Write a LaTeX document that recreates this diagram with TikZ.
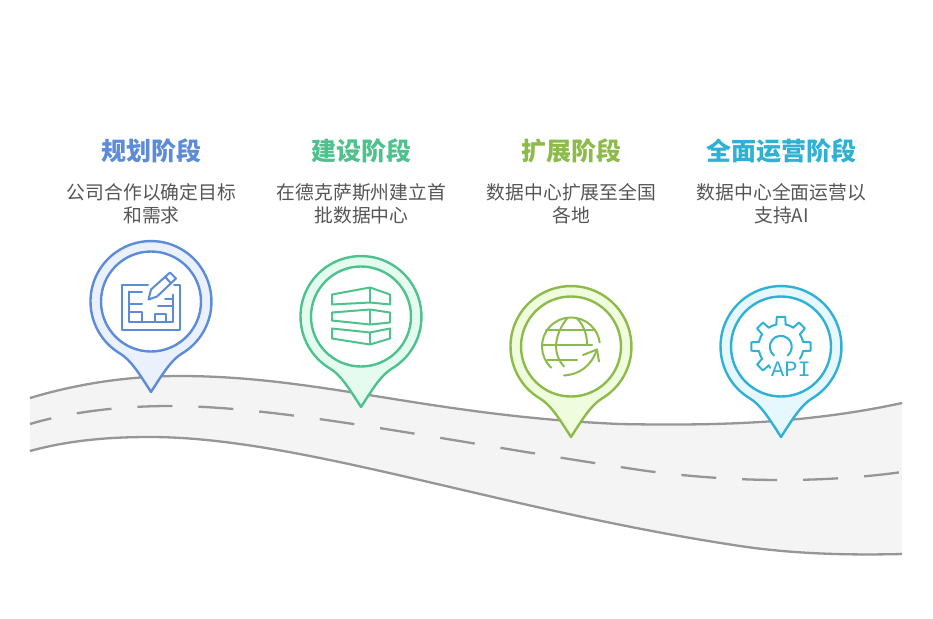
\documentclass[tikz,border=0pt]{standalone}
\usepackage{fontspec}
\setmainfont{Noto Sans CJK SC}
\newfontfamily\apifont{Liberation Mono}
\usepackage{tikz}
\definecolor{planblue}{HTML}{5B8BD9}
\definecolor{planfill}{HTML}{EAF1FC}
\definecolor{buildgreen}{HTML}{4DC28D}
\definecolor{buildfill}{HTML}{E6FBF0}
\definecolor{growlime}{HTML}{8DBB4A}
\definecolor{growfill}{HTML}{F0FCDE}
\definecolor{runcyan}{HTML}{2FB0D5}
\definecolor{runfill}{HTML}{E6F7FD}
\definecolor{roadfill}{HTML}{F4F4F4}
\definecolor{roadline}{HTML}{969696}
\definecolor{bodytext}{HTML}{555555}
\tikzset{
  phasetitle/.style = {font = \fontsize{25}{25}\selectfont\bfseries, anchor = center},
  phasetext/.style = {font = \fontsize{18.8}{23}\selectfont, text = bodytext, align = center, anchor = north},
  roadedge/.style = {draw = roadline, line width = 2.3pt},
  icon/.style = {line width = 2pt, line join = round, line cap = round}
}
\begin{document}
\begin{tikzpicture}[x = 1pt, y = -1pt]
\useasboundingbox (0,0) rectangle (933,618);

\fill[roadfill] (30,398) .. controls (80,383) and (130,376) .. (180,376)
      .. controls (320,376) and (430,416) .. (620,424)
      .. controls (720,426) and (810,423) .. (902,403)
      -- (902,554) .. controls (860,555) and (800,555) .. (740,546)
      .. controls (500,510) and (300,437) .. (150,437)
      .. controls (110,437) and (70,440) .. (30,451) -- cycle;
\draw[roadedge] (30,398) .. controls (80,383) and (130,376) .. (180,376)
      .. controls (320,376) and (430,416) .. (620,424)
      .. controls (720,426) and (810,423) .. (902,403);
\draw[roadedge] (30,451) .. controls (70,440) and (110,437) .. (150,437)
      .. controls (300,437) and (500,510) .. (740,546)
      .. controls (800,555) and (860,555) .. (902,554);
\draw[roadedge, dash pattern = on 35pt off 26pt, dash phase = 13pt] (30,424) .. controls (70,412) and (120,406) .. (170,406)
      .. controls (280,406) and (440,440) .. (640,470)
      .. controls (740,484) and (830,482) .. (902,472);

\foreach \px/\py/\pcol/\pfill in {151/301.5/planblue/planfill,
                                  361/316.5/buildgreen/buildfill,
                                  571/346.5/growlime/growfill,
                                  781/346.5/runcyan/runfill} {
  \begin{scope}[shift = {(\px,\py)}]
    \draw[draw = \pcol, fill = \pfill, line width = 2.4pt, line join = round]
      (0,90.5) .. controls (-13,70) and (-21,58) .. (-31,52)
      arc[start angle = 120.8, end angle = 419.2, radius = 60.5]
      .. controls (21,58) and (13,70) .. cycle;
    \draw[draw = \pcol, fill = white, line width = 2.4pt] (0,0) circle (50);
  \end{scope}
}

\node[phasetitle, text = planblue] (title1) at (151,151) {规划阶段};
\node[phasetitle, text = buildgreen] (title2) at (361,151) {建设阶段};
\node[phasetitle, text = growlime] (title3) at (571,151) {扩展阶段};
\node[phasetitle, text = runcyan] (title4) at (781,151) {全面运营阶段};
\node[phasetext] (text1) at (151.5,180) {公司合作以确定目标\\和需求};
\node[phasetext] (text2) at (361.5,180) {在德克萨斯州建立首\\批数据中心};
\node[phasetext] (text3) at (571.5,180) {数据中心扩展至全国\\各地};
\node[phasetext] (text4) at (781.5,180) {数据中心全面运营以\\支持AI};

% plan
\begin{scope}[shift = {(151,301.5)}, icon, draw = planblue]
  \draw (-3,-17) -- (-29,-17) -- (-29,28) -- (29,28) -- (29,-17) -- (23,-17);
  \draw (-22,-10) -- (-9,-10);
  \draw (-22,-10) -- (-22,20) -- (22,20) -- (22,-7);
  \draw (-22,2) -- (-9,2);
  \draw (-22,10) -- (-9,10) -- (-9,20);
  \draw (14,-3) -- (22,-3);
  \draw (7,4) -- (22,4);
  \draw (4,20) -- (4,12) -- (15,12) -- (15,20);
  \draw (-2.5,-2) -- (0,-12) -- (19,-29) -- (25,-23) -- (6,-5) -- cycle;
  \draw (14,-25) -- (20,-18);
\end{scope}

% stack
\begin{scope}[shift = {(361,316.5)}, icon, draw = buildgreen]
  \draw (-29,-22) -- (9,-29) -- (29,-22) -- (29,-12) -- (9,-14) -- (-29,-12) -- cycle;
  \draw (9,-29) -- (9,-14);
  \draw (-29,-4) -- (9,-7) -- (29,-4) -- (29,6) -- (9,8) -- (-29,4) -- cycle;
  \draw (9,-7) -- (9,8);
  \draw (-29,12) -- (9,16) -- (29,12) -- (29,22) -- (9,28) -- (-29,22) -- cycle;
  \draw (9,16) -- (9,28);
\end{scope}

% globe
\begin{scope}[shift = {(571,346.5)}, icon, draw = growlime]
  \draw (-19.8,21.2) arc[start angle = 133, end angle = 352, radius = 29];
  \draw (-4,-28) .. controls (-18,-10) and (-18,8) .. (-7,20);
  \draw (6,-28) .. controls (14,-20) and (16,-10) .. (16,-2);
  \draw (-25,-16.5) -- (24,-16.5);
  \draw (-28,-1.5) -- (21,-1.5);
  \draw (-24,13.5) -- (6,13.5);
  \draw (-7,29) .. controls (8,28) and (20,20) .. (26,3);
  \draw (12,8.5) -- (26,3) -- (28,15);
\end{scope}

% gear
\begin{scope}[shift = {(781,346.5)}, icon, draw = runcyan]
  \foreach \a in {135,180,225,270,315,360} {
    \draw (\a-12:22.5) -- (\a-8:30) -- (\a+8:30) -- (\a+12:22.5);
    \draw (\a+12:22.5) arc[start angle = \a+12, end angle = \a+33, radius = 22.5];
  }
  \draw (135-12:22.5) -- (135-12-6:24);
  \draw (-7,9) arc[start angle = 128, end angle = 412, radius = 11];
\end{scope}
\node[text = runcyan, font = \fontsize{22}{22}\selectfont\apifont, inner sep = 0pt] (api) at (791,369) {API};
\end{tikzpicture}
\end{document}
